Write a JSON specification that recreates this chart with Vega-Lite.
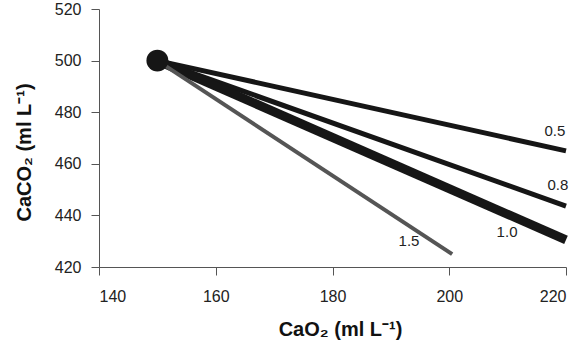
{
  "$schema": "https://vega.github.io/schema/vega-lite/v6.json",
  "width": 467,
  "height": 258,
  "autosize": "none",
  "padding": {"left": 99, "top": 9, "right": 8, "bottom": 84},
  "background": "white",
  "config": {"view": {"stroke": null}, "font": "Liberation Sans"},
  "datasets": {
    "lines": [
      {"ratio": "0.5", "CaO2": 150, "CaCO2": 500},
      {"ratio": "0.5", "CaO2": 220, "CaCO2": 465},
      {"ratio": "0.8", "CaO2": 150, "CaCO2": 500},
      {"ratio": "0.8", "CaO2": 220, "CaCO2": 443.6},
      {"ratio": "1.0", "CaO2": 150, "CaCO2": 500},
      {"ratio": "1.0", "CaO2": 220, "CaCO2": 430.5},
      {"ratio": "1.5", "CaO2": 150, "CaCO2": 500},
      {"ratio": "1.5", "CaO2": 200.5, "CaCO2": 425}
    ],
    "labels": [
      {"label": "0.5", "CaO2": 218.1, "CaCO2": 472.7},
      {"label": "0.8", "CaO2": 218.6, "CaCO2": 451.8},
      {"label": "1.0", "CaO2": 209.9, "CaCO2": 433.6},
      {"label": "1.5", "CaO2": 193.1, "CaCO2": 430}
    ],
    "origin": [{"CaO2": 150, "CaCO2": 500}]
  },
  "encoding": {
    "x": {
      "field": "CaO2", "type": "quantitative",
      "scale": {"domain": [140, 220], "nice": false, "zero": false},
      "axis": {
        "title": "CaO₂ (ml L⁻¹)", "values": [140, 160, 180, 200, 220],
        "grid": false, "domainColor": "#555", "tickColor": "#555", "tickSize": 8,
        "labelFontSize": 16, "labelColor": "#222", "labelPadding": 13,
        "titleFontSize": 20, "titleFontWeight": "bold", "titleColor": "#111", "titlePadding": 15, "titleX": 241
      }
    },
    "y": {
      "field": "CaCO2", "type": "quantitative",
      "scale": {"domain": [420, 520], "nice": false, "zero": false},
      "axis": {
        "title": "CaCO₂ (ml L⁻¹)", "values": [420, 440, 460, 480, 500, 520],
        "grid": false, "domainColor": "#555", "tickColor": "#555", "tickSize": 8,
        "labelFontSize": 16, "labelColor": "#222", "labelPadding": 10,
        "titleFontSize": 20, "titleFontWeight": "bold", "titleColor": "#111", "titlePadding": 20, "titleY": 143
      }
    }
  },
  "layer": [
    {
      "data": {"name": "lines"},
      "mark": {"type": "line"},
      "encoding": {
        "detail": {"field": "ratio"},
        "color": {"field": "ratio", "type": "nominal", "scale": {"domain": ["0.5", "0.8", "1.0", "1.5"], "range": ["#161616", "#161616", "#161616", "#555555"]}, "legend": null},
        "strokeWidth": {"field": "ratio", "type": "nominal", "scale": {"type": "ordinal", "domain": ["0.5", "0.8", "1.0", "1.5"], "range": [5, 5, 9, 4]}, "legend": null}
      }
    },
    {
      "data": {"name": "origin"},
      "mark": {"type": "point", "filled": true, "size": 480, "color": "#161616", "opacity": 1},
      "encoding": {}
    },
    {
      "data": {"name": "labels"},
      "mark": {"type": "text", "fontSize": 15, "color": "#222"},
      "encoding": {"text": {"field": "label"}}
    }
  ]
}
